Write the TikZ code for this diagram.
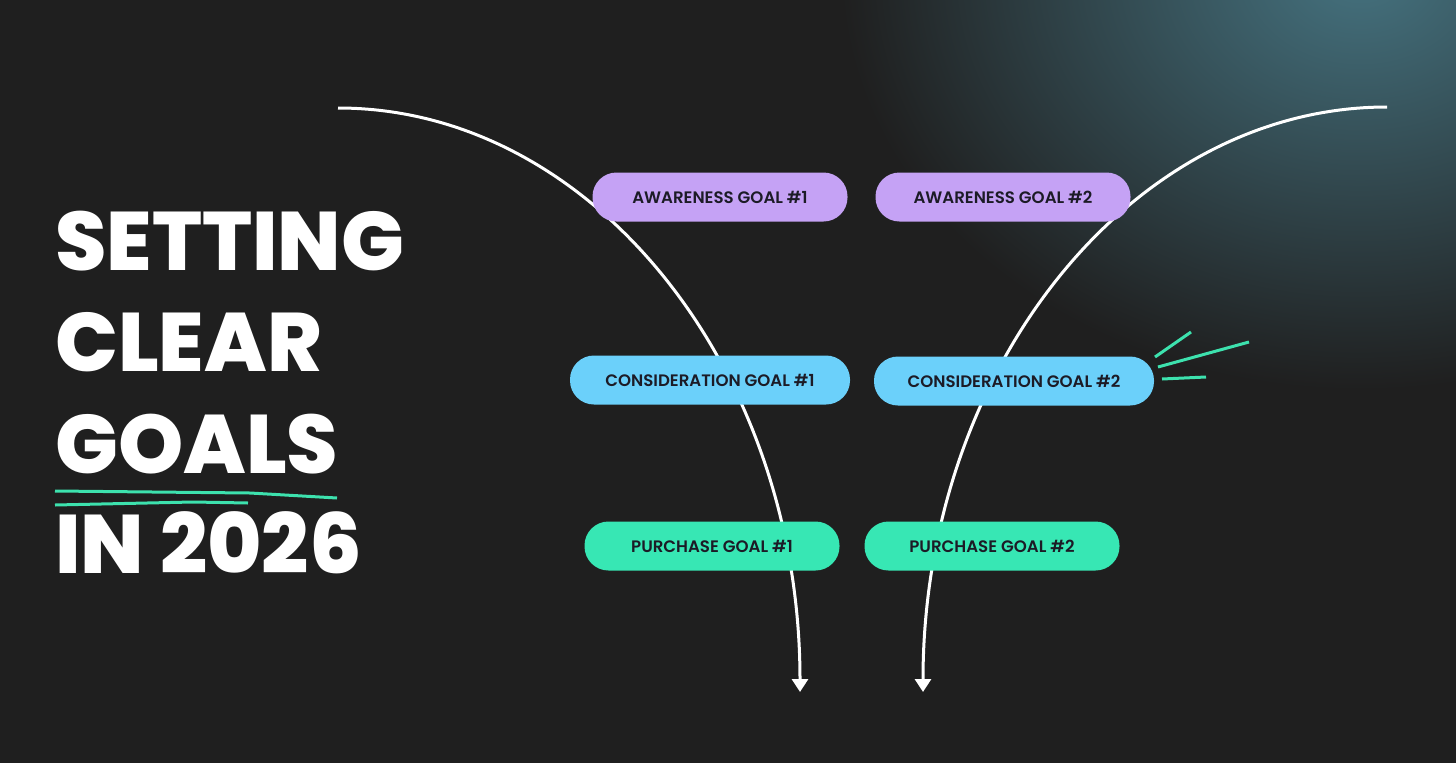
\documentclass[tikz,border=0pt]{standalone}
\usepackage{fontspec}
\setmainfont{Poppins}
\newfontfamily\titlefont{Poppins ExtraBold}
\newfontfamily\pillfont{Poppins SemiBold}
\usetikzlibrary{arrows.meta}

\definecolor{bg}{HTML}{1F1F1F}
\definecolor{glow}{HTML}{45727F}
\definecolor{aware}{HTML}{C5A2F5}
\definecolor{consid}{HTML}{6BD0FA}
\definecolor{purch}{HTML}{37E7B4}
\definecolor{ink}{HTML}{1C1B26}
\definecolor{accent}{HTML}{3DE2AE}

\tikzset{
  pill/.style={rounded corners=24pt, minimum height=49pt, inner sep=0pt,
    text=ink, font=\pillfont\fontsize{16.6}{17}\selectfont},
  headline/.style={anchor=base west, text=white, inner sep=0pt,
    font=\titlefont\fontsize{83}{83}\selectfont},
  funnel/.style={draw=white, line width=3pt, -{Triangle[width=16pt,length=13pt]}},
  scribble/.style={draw=accent, line width=3pt}
}

\begin{document}
\begin{tikzpicture}[x=1pt,y=-1pt]
  \useasboundingbox (0,0) rectangle (1456,763);
  \fill[bg] (0,0) rectangle (1456,763);
  \begin{scope}
    \clip (0,0) rectangle (1456,763);
    \shade[inner color=glow, outer color=bg] (1360,-30) ellipse [x radius=520, y radius=420];
  \end{scope}

  % title
  \node[headline] (setting) at (55,270) {SETTING};
  \node[headline] (clear) at (55,371) {CLEAR};
  \node[headline] (goals) at (55,473) {GOALS};
  \node[headline] (year) at (55,573) {IN 2026};

  \draw[scribble] (55,491) -- (250,493) -- (337,498);
  \draw[scribble] (55,505) -- (193,502) -- (248,503);

  % funnel lines
  \coordinate (top1) at (338,108);
  \coordinate (end1) at (800,692);
  \coordinate (top2) at (1387,107);
  \coordinate (end2) at (923,692);
  \draw[funnel] (top1) .. controls +(255,0) and +(0,-322) .. (end1);
  \draw[funnel] (top2) .. controls +(-256,0) and +(0,-323) .. (end2);

  % goals
  \node[pill, fill=aware, minimum width=255pt] (aw1) at (720,197) {AWARENESS GOAL \#1};
  \node[pill, fill=aware, minimum width=255pt] (aw2) at (1003,197) {AWARENESS GOAL \#2};
  \node[pill, fill=consid, minimum width=280pt] (co1) at (710,380) {CONSIDERATION GOAL \#1};
  \node[pill, fill=consid, minimum width=280pt] (co2) at (1014,381) {CONSIDERATION GOAL \#2};
  \node[pill, fill=purch, minimum width=255pt] (pu1) at (712,546) {PURCHASE GOAL \#1};
  \node[pill, fill=purch, minimum width=255pt] (pu2) at (992,546) {PURCHASE GOAL \#2};

  \draw[scribble] (1155,357) -- (1191,332);
  \draw[scribble] (1158,367) -- (1249,342);
  \draw[scribble] (1162,379) -- (1206,377);
\end{tikzpicture}
\end{document}
